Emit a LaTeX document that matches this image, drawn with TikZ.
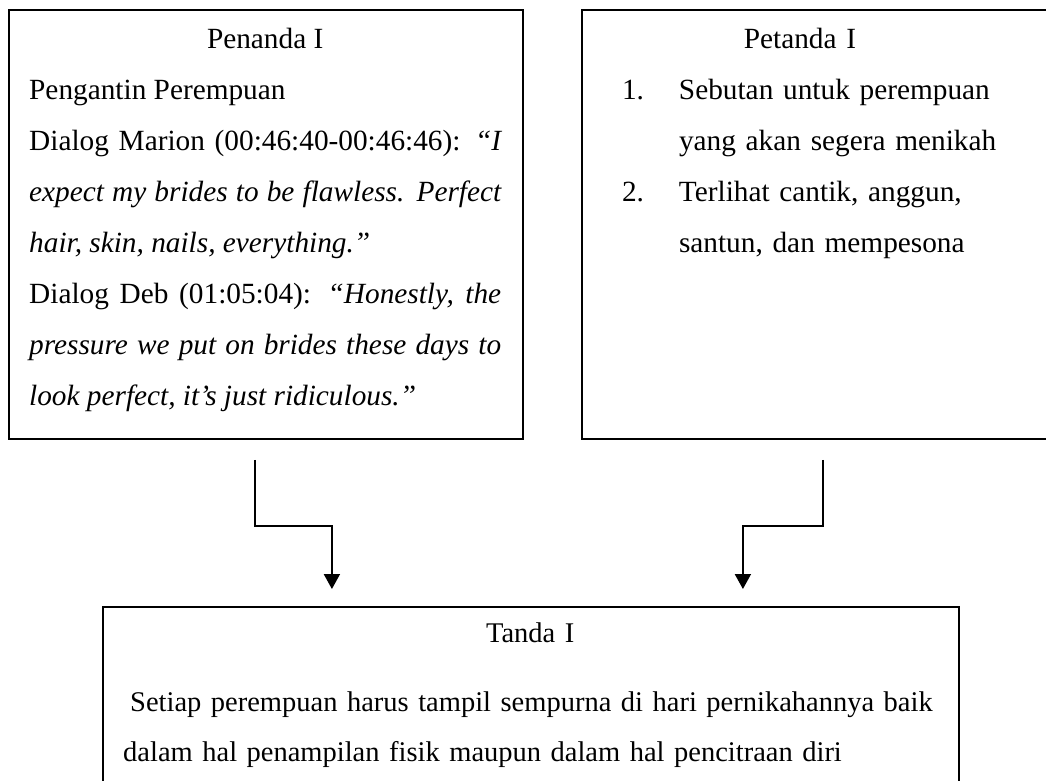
\documentclass[tikz,border=0pt]{standalone}
\usepackage{fontspec}
\setmainfont{Liberation Serif}
\usetikzlibrary{arrows.meta,positioning}
\setlength{\parindent}{0pt}

\begin{document}
\begin{tikzpicture}[x=1pt,y=-1pt,>={Triangle[width=16pt,length=15pt]},node distance=20pt]
  \tikzstyle{panel}=[draw,line width=1.8pt,inner sep=0pt,minimum height=429pt]
  \tikzstyle{panetext}=[inner sep=0pt,anchor=north west,font=\fontsize{29.3}{51}\selectfont]
  \tikzstyle{flow}=[->,line width=2pt,shorten >=17pt]
  \useasboundingbox (0,0) rectangle (1046,780);
  \clip (0,0) rectangle (1046,780);
  % three boxes
  \node[panel,minimum width=514pt,anchor=north west] (penanda) at (8,9) {};
  \node[panel,minimum width=480pt,right=57pt of penanda] (petanda) {};
  \node[panel,minimum width=856pt,minimum height=200pt,anchor=north west] (tanda) at (102,606) {};
  \node[panetext,text width=472pt,align=justify,below right=19pt and 21pt of penanda.north west] (penandatext)
    {\hspace*{\fill}Penanda I\hspace*{\fill}\linebreak
     Pengantin Perempuan\newline
     Dialog Marion (00:46:40-00:46:46): \textit{“I\linebreak
     expect my brides to be flawless. Perfect\linebreak
     hair, skin, nails, everything.”}\newline
     Dialog Deb (01:05:04): \textit{“Honestly, the\linebreak
     pressure we put on brides these days to\linebreak
     look perfect, it’s just ridiculous.”}};
  \node[panetext,text width=420pt,align=left,below right=19pt and 41pt of petanda.north west] (petandatext)
    {\makebox[356pt]{Petanda I}\\
     \makebox[57pt][l]{1.}Sebutan untuk perempuan\\
     \hspace*{57pt}yang akan segera menikah\\
     \makebox[57pt][l]{2.}Terlihat cantik, anggun,\\
     \hspace*{57pt}santun, dan mempesona};
  \node[panetext,font=\fontsize{28.5}{50}\selectfont,text width=840pt,align=left,below right=17pt and 21pt of tanda.north west] (tandatext)
    {\makebox[814pt]{Tanda I}\\[19pt]
     \hspace*{7pt}Setiap perempuan harus tampil sempurna di hari pernikahannya baik\\
     dalam hal penampilan fisik maupun dalam hal pencitraan diri};
  % connectors
  \coordinate (penandaout) at ([xshift=-11pt,yshift=-20pt]penanda.south);
  \coordinate (petandaout) at ([xshift=1pt,yshift=-20pt]petanda.south);
  \draw[flow] (penandaout) -- ++(0,66) -| ([xshift=-199pt]tanda.north);
  \draw[flow] (petandaout) -- ++(0,66) -| ([xshift=212pt]tanda.north);
\end{tikzpicture}
\end{document}
